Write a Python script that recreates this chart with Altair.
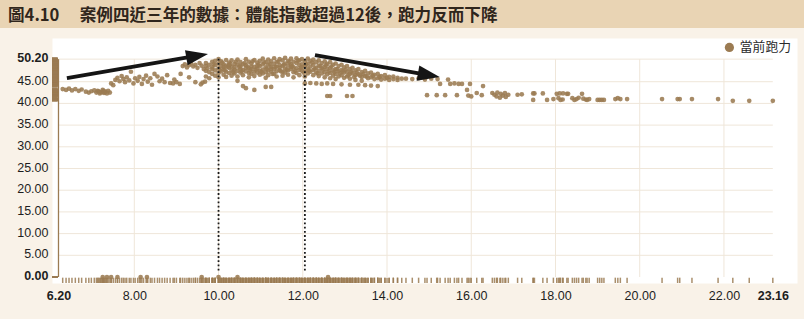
import altair as alt
import pandas as pd

# ---------------- data ----------------
x_ticks = [6.2, 8, 10, 12, 14, 16, 18, 20, 22, 23.16]
y_ticks = [0, 5, 10, 15, 20, 25, 30, 35, 40, 45, 50.2]
grid_x = [8, 10, 12, 14, 16, 18, 20, 22]
grid_y = [5, 10, 15, 20, 25, 30, 35, 40, 45, 50.2]

early_x = [6.30, 6.38, 6.45, 6.52, 6.60, 6.68, 6.75, 6.85, 6.92, 6.98, 7.05, 7.10, 7.13, 7.15, 7.18,
           7.20, 7.22, 7.25, 7.27, 7.28, 7.30, 7.32, 7.35, 7.38, 7.42, 7.45, 7.50, 7.55, 7.60, 7.65,
           7.70, 7.74, 7.78, 7.82, 7.88, 7.92, 7.98, 8.02, 8.08, 8.12, 8.18, 8.22, 8.28, 8.32, 8.38,
           8.42, 8.48, 8.55, 8.60, 8.66, 8.72, 8.78, 8.85, 8.92, 8.95, 9.00, 9.08, 9.10, 9.15, 9.20,
           9.25, 9.30, 9.30, 9.35, 9.40, 9.45, 9.45, 9.50, 9.55, 9.58, 9.60, 9.62, 9.65, 9.68]
early_y = [43.3, 43.1, 43.4, 43.0, 43.3, 42.9, 43.2, 42.7, 42.5, 42.8, 43.0, 42.5, 42.9, 42.8, 42.3,
           42.6, 42.6, 43.1, 42.9, 42.4, 42.6, 42.7, 42.3, 42.9, 42.5, 44.6, 44.2, 45.4, 45.9, 45.1,
           46.3, 45.6, 44.9, 46.0, 45.3, 47.3, 44.6, 45.8, 45.2, 46.1, 44.5, 45.6, 46.4, 45.0, 45.8,
           44.3, 46.8, 46.2, 45.1, 45.7, 44.9, 46.5, 44.7, 44.6, 45.5, 44.9, 44.5, 46.8, 48.6, 49.0,
           48.3, 48.8, 46.0, 49.2, 48.5, 48.9, 44.9, 48.2, 49.3, 44.4, 48.7, 44.8, 47.9, 45.0]

peak_columns = [
    (9.70, [47.5, 48.6, 49.3, 46.2]), (9.78, [48.9, 47.2, 45.8]), (9.85, [49.6, 48.3, 46.8, 47.9]),
    (9.92, [48.8, 47.6, 46.4, 49.8]), (10.00, [49.2, 48.1, 47.0, 46.0, 50.2]),
    (10.06, [48.6, 47.4, 49.7]), (10.12, [49.0, 47.9, 46.6, 48.4]), (10.18, [50.0, 48.7, 47.3, 46.1]),
    (10.25, [49.4, 48.2, 47.0, 48.8]), (10.31, [49.9, 48.5, 47.6, 46.4]), (10.38, [49.1, 47.8, 46.9, 48.3]),
    (10.45, [50.1, 48.9, 47.5, 46.2, 45.2]), (10.52, [49.5, 48.0, 47.1, 48.6]),
    (10.58, [49.0, 47.7, 46.5, 44.0]), (10.65, [50.2, 48.8, 47.4, 48.2, 43.5]),
    (10.72, [49.6, 48.1, 47.0, 46.0]), (10.78, [49.2, 47.9, 46.8, 48.5]),
    (10.85, [50.0, 48.4, 47.3, 46.3, 43.1]), (10.92, [49.4, 48.0, 47.1, 48.7]),
    (10.98, [49.8, 48.6, 47.5, 46.6]), (11.05, [50.3, 49.0, 47.8, 46.9]),
    (11.12, [49.5, 48.3, 47.2, 45.9, 43.8]), (11.18, [50.1, 48.9, 47.6, 46.5]),
    (11.25, [49.7, 48.4, 47.3, 48.0, 43.8]), (11.32, [50.4, 49.1, 47.9, 46.8]),
    (11.38, [49.6, 48.5, 47.4, 46.2]), (11.45, [50.2, 48.8, 47.7, 48.2]),
    (11.52, [49.9, 48.6, 47.3, 46.4]), (11.58, [50.5, 49.2, 48.0, 47.1]),
    (11.65, [49.8, 48.7, 47.6, 46.6]), (11.72, [50.3, 49.0, 47.9, 48.4]),
    (11.78, [49.6, 48.3, 47.2, 46.0]), (11.85, [50.4, 49.3, 48.1, 47.0]),
    (11.92, [49.9, 48.8, 47.7, 46.5]), (11.98, [50.2, 49.0, 47.5, 48.3]),
    (12.05, [49.7, 48.6, 47.4, 46.2, 44.6]), (12.12, [50.3, 49.2, 48.0, 46.9]),
    (12.18, [49.8, 48.5, 47.3, 44.7]), (12.25, [50.1, 48.9, 47.7, 46.5]),
    (12.32, [49.5, 48.2, 47.1, 44.6]), (12.38, [49.9, 48.7, 47.5, 46.3]),
    (12.45, [49.3, 48.1, 46.9, 44.5]), (12.52, [49.7, 48.4, 47.2, 46.0]),
    (12.58, [49.1, 47.9, 46.7, 44.6, 41.7]), (12.65, [49.5, 48.2, 47.0, 45.8, 41.7]),
    (12.72, [48.9, 47.6, 46.4, 44.5]), (12.78, [49.2, 47.9, 46.8, 45.6]),
    (12.85, [48.6, 47.4, 46.2]), (12.92, [48.9, 47.7, 46.5, 44.4]), (12.98, [48.3, 47.1, 45.9]),
    (13.05, [48.6, 47.3, 46.2, 41.7]), (13.12, [47.9, 46.8, 45.7, 44.3]), (13.18, [48.2, 47.0, 41.7]),
    (13.25, [47.6, 46.5, 45.4]), (13.32, [47.9, 46.7, 44.3]), (13.40, [47.2, 46.1, 45.2]),
    (13.48, [47.5, 46.3, 44.2]), (13.55, [46.9, 45.8]), (13.62, [47.1, 46.0, 44.1]),
    (13.70, [46.6, 45.6]), (13.78, [46.8, 45.8, 44.0]), (13.86, [46.3, 45.5]),
    (13.95, [46.5, 45.7]), (14.05, [46.1, 45.4]), (14.15, [46.2, 45.6]), (14.25, [45.9, 45.4]),
]

# extra irregular points filling the dense band
fill_x = [9.74, 9.88, 10.03, 10.09, 10.15, 10.22, 10.28, 10.35, 10.41, 10.49, 10.55, 10.62, 10.69,
          10.75, 10.81, 10.88, 10.95, 11.02, 11.08, 11.15, 11.22, 11.28, 11.35, 11.42, 11.48, 11.55,
          11.62, 11.68, 11.75, 11.82, 11.88, 11.95, 12.02, 12.08, 12.15, 12.22, 12.28, 12.35, 12.42,
          12.48, 12.55, 12.62, 12.68, 12.75, 12.82, 12.88, 12.95, 13.02, 13.08, 13.15, 13.22, 13.28,
          13.36, 13.44, 13.52, 13.66, 13.82, 14.00, 14.35]
fill_y = [48.1, 49.0, 47.7, 49.4, 47.6, 48.4, 49.1, 47.2, 49.6, 48.4, 47.4, 49.3, 48.5, 47.6, 49.7,
          47.8, 48.9, 47.3, 49.4, 48.0, 49.1, 46.8, 48.4, 49.6, 47.4, 48.9, 47.8, 49.5, 48.6, 47.5,
          49.8, 48.2, 47.1, 48.9, 47.6, 49.4, 48.0, 46.9, 48.6, 47.8, 48.8, 47.4, 48.5, 47.2, 47.9,
          46.9, 47.4, 47.8, 46.5, 47.3, 46.1, 47.1, 46.4, 46.8, 46.2, 46.4, 46.1, 45.9, 45.7]

late_x = [14.45, 14.60, 14.75, 14.90, 15.05, 15.20, 15.26, 15.45, 15.50, 15.60, 15.70, 15.78, 15.97,
          15.90, 16.13, 16.28, 14.95, 15.18, 15.38, 15.66, 15.93, 16.00, 16.25,
          16.50, 16.55, 16.60, 16.62, 16.68, 16.70, 16.75, 16.80, 16.82, 16.88,
          17.10, 17.20, 17.47, 17.50, 17.70, 17.47, 17.80, 17.95, 18.03, 18.10, 18.18, 18.27, 18.30,
          18.07, 18.17, 18.12, 18.40, 18.45, 18.50, 18.55, 18.63, 18.66, 18.72, 18.75, 18.80,
          19.00, 19.05, 19.10, 19.15, 19.42, 19.48, 19.54, 19.70,
          20.53, 20.90, 20.95, 21.24, 21.86, 22.21, 22.60, 23.16]
late_y = [45.7, 45.6, 45.8, 45.5, 45.7, 45.6, 44.5, 45.5, 44.5, 44.6, 44.5, 44.5, 44.5,
          43.1, 42.4, 44.0, 41.9, 41.9, 41.9, 41.9, 41.8, 41.6, 41.9,
          42.4, 42.0, 41.6, 42.5, 41.3, 42.2, 41.8, 42.4, 41.5, 42.0,
          42.0, 42.1, 42.3, 42.3, 42.3, 40.8, 40.8, 41.0, 42.2, 42.3, 42.3, 42.2, 42.2,
          41.2, 40.9, 40.8, 41.2, 40.8, 41.0, 41.3, 42.2, 41.1, 40.9, 40.8, 41.0,
          40.8, 40.8, 40.8, 40.8, 41.0, 41.2, 41.0, 41.0,
          41.0, 41.0, 41.0, 41.0, 41.0, 40.6, 40.6, 40.6]

zero_x = [7.25, 7.35, 7.45, 7.60, 8.15, 8.30, 9.60, 10.00, 10.45, 12.60]
zero_y = [0.0, 0.0, 0.0, 0.0, 0.0, 0.0, 0.0, 0.0, 0.0, 0.0]

guide_x = [10.0, 12.05]          # dotted vertical guides
guide_y = [1.5, 50.5]

arrow_x0 = [6.40, 12.29]
arrow_y0 = [45.85, 51.15]
arrow_x1 = [9.40, 14.89]          # shaft end (base of head)
arrow_y1 = [50.81, 46.68]
arrow_tip_x = [9.75, 15.25]
arrow_tip_y = [51.38, 46.08]
arrow_angle = [350.3, 10.0]

SERIES = "當前跑力"
TITLE = "圖4.10\u3000 案例四近三年的數據：體能指數超過12後，跑力反而下降"

# ---------------- tables ----------------
px, py = list(early_x), list(early_y)
for cx, vals in peak_columns:
    for v in vals:
        px.append(cx)
        py.append(v)
px += fill_x + late_x + zero_x
py += fill_y + late_y + zero_y
pts = pd.DataFrame({"x": px, "y": py, "series": SERIES})

hgrid = pd.DataFrame({"y": grid_y, "x": 6.2, "x2": 23.16})
vgrid = pd.DataFrame({"x": grid_x, "y": 0.0, "y2": 50.2})
guides = pd.DataFrame({"x": guide_x, "y": guide_y[0], "y2": guide_y[1]})
arrows = pd.DataFrame({"x": arrow_x0, "y": arrow_y0, "x2": arrow_x1, "y2": arrow_y1})
heads = pd.DataFrame({"x": arrow_tip_x, "y": arrow_tip_y, "a": arrow_angle})
yline = pd.DataFrame({"x": [6.2], "y": [0.0], "y2": [50.2]})
band = pd.DataFrame({"t": [TITLE]})

TAN = "#9b7b52"
GRID = "#efe6d9"
LABEL_FONT = "Liberation Sans"
CJK = "Noto Sans CJK TC"

xs = alt.Scale(domain=[6.046, 23.734], nice=False, zero=False)
ys_ = alt.Scale(domain=[-1.38, 55.07], nice=False, zero=False)

x_axis = alt.Axis(
    values=x_ticks, format=".2f", grid=False, domain=False, ticks=False, title=None,
    labelPadding=6, labelFontSize=12.5, labelFont=LABEL_FONT, labelColor="#1e1e1e",
    labelOverlap=False,
    labelFontWeight={"condition": {"test": "datum.value == 6.2 || datum.value == 23.16",
                                   "value": "bold"}, "value": "normal"},
)
y_axis = alt.Axis(
    values=y_ticks, format=".2f", grid=False, domain=False, ticks=False, title=None,
    labelPadding=4, labelFontSize=12.5, labelFont=LABEL_FONT, labelColor="#1e1e1e",
    labelOverlap=False, labelOffset=-1.5,
    labelFontWeight={"condition": {"test": "datum.value == 0 || datum.value == 50.2",
                                   "value": "bold"}, "value": "normal"},
)


def X(f):
    return alt.X(f, type="quantitative", scale=xs, axis=x_axis, title=None)


def Y(f):
    return alt.Y(f, type="quantitative", scale=ys_, axis=y_axis, title=None)


title_band = alt.Chart(band).mark_rect(color="#e9d4b4").encode(
    x=alt.value(-52), x2=alt.value(752), y=alt.value(-38), y2=alt.value(-10)
)
title_text = alt.Chart(band).mark_text(
    align="left", baseline="middle", font=CJK, fontSize=16.6, fontWeight="bold", color="#30261c"
).encode(x=alt.value(-44), y=alt.value(-22.5), text="t:N")

hg = alt.Chart(hgrid).mark_rule(color=GRID, strokeWidth=1).encode(x=X("x"), x2="x2", y=Y("y"))
vg = alt.Chart(vgrid).mark_rule(color=GRID, strokeWidth=1).encode(x=X("x"), y=Y("y"), y2="y2")
yl = alt.Chart(yline).mark_rule(color=TAN, strokeWidth=1.3).encode(x=X("x"), y=Y("y"), y2="y2")

rug_b = alt.Chart(pts).mark_rule(color=TAN, strokeWidth=1.5, opacity=0.85).encode(
    x=X("x"), y=alt.Y(datum=-0.15, scale=ys_, axis=y_axis, title=None), y2=alt.datum(-1.38)
)
rug_l = alt.Chart(pts).mark_rule(color=TAN, strokeWidth=1.3, opacity=0.8).encode(
    y=Y("y"), x=alt.X(datum=6.046, scale=xs, axis=x_axis, title=None), x2=alt.datum(6.18)
)

points = alt.Chart(pts).mark_circle(size=22, opacity=0.88).encode(
    x=X("x"),
    y=Y("y"),
    color=alt.Color(
        "series:N", scale=alt.Scale(domain=[SERIES], range=[TAN]),
        legend=alt.Legend(
            title=None, orient="none", legendX=671, legendY=3, symbolType="circle",
            symbolSize=85, symbolOpacity=1, labelFont=CJK, labelFontSize=12.8,
            labelColor="#2a2a2a", padding=0,
        ),
    ),
)

guide = alt.Chart(guides).mark_rule(color="#1a1a1a", strokeWidth=1.8, strokeDash=[1.8, 2.4]).encode(
    x=X("x"), y=Y("y"), y2="y2"
)
shaft = alt.Chart(arrows).mark_rule(color="#151515", strokeWidth=3.8).encode(
    x=X("x"), y=Y("y"), x2="x2", y2="y2"
)
head = alt.Chart(heads).mark_point(
    shape="M0,0L-2,-0.7L-2,0.7Z", filled=True, color="#151515", opacity=1, size=484
).encode(x=X("x"), y=Y("y"), angle=alt.Angle("a:Q", scale=None))

chart = (
    alt.layer(title_band, title_text, hg, vg, yl, rug_b, rug_l, points, guide, shaft, head)
    .properties(
        width=745, height=245,
        autosize="none",
        padding={"left": 52, "top": 38, "right": 7, "bottom": 36},
        background="#f9f2e8",
    )
    .configure_view(fill="white", stroke="transparent")
)

chart.save("out.html", embed_options={"renderer": "svg", "actions": False})
